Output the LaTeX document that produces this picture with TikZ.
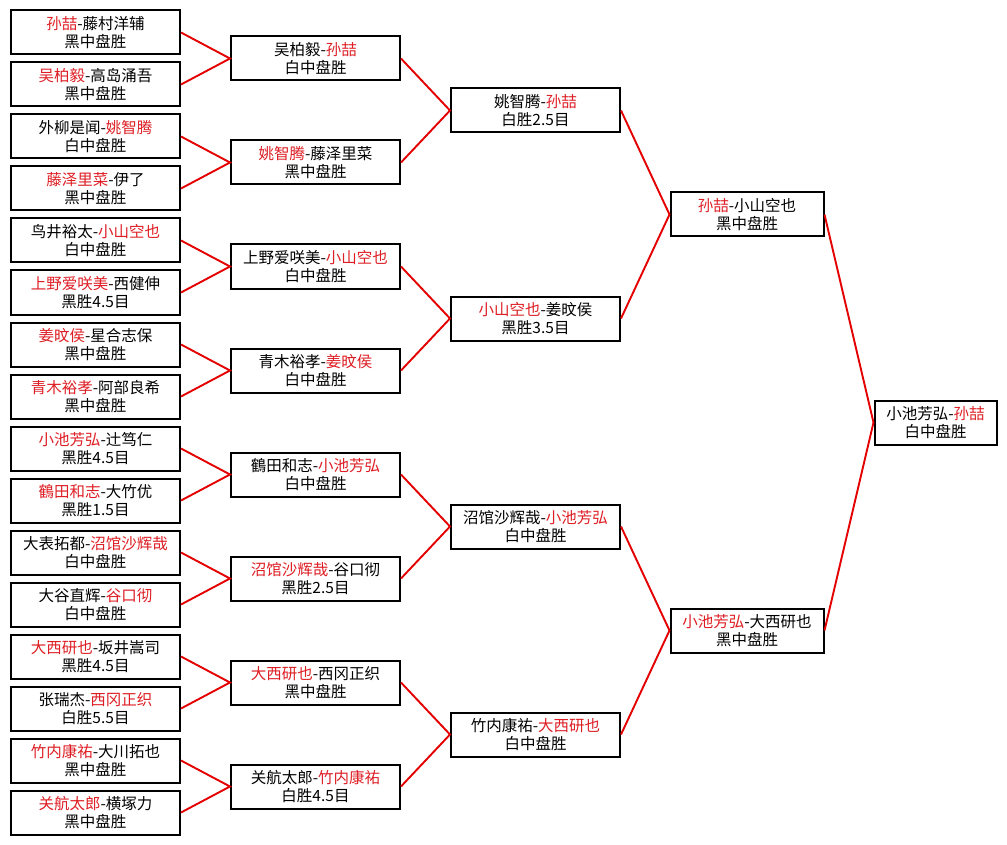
\documentclass[tikz,border=0pt]{standalone}
\usepackage{fontspec}
\setmainfont{Noto Sans CJK SC}
\definecolor{nred}{RGB}{222,30,36}
\definecolor{lred}{RGB}{228,0,0}
\newcommand{\rn}[1]{\textcolor{nred}{#1}}
\begin{document}
\begin{tikzpicture}[x=1pt,y=-1pt,
  match/.style={draw=black, line width=2pt, fill=white, align=center,
    font=\fontsize{15.5}{18.5}\selectfont, inner sep=0pt, minimum height=44pt},
  wide/.style={match, minimum width=169pt},
  mid/.style={match, minimum width=153pt},
  fin/.style={match, minimum width=122pt},
  link/.style={draw=lred, line width=1.9pt}]
\useasboundingbox (0,0) rectangle (1007,845);
\fill[white] (0,0) rectangle (1007,845);
% round 1
\node[wide] (a1)  at (95.5, 32.5) {\rn{孙喆}-藤村洋辅\\黑中盘胜};
\node[wide] (a2)  at (95.5, 84.5) {\rn{吴柏毅}-高岛涌吾\\黑中盘胜};
\node[wide] (a3)  at (95.5,136.5) {外柳是闻-\rn{姚智腾}\\白中盘胜};
\node[wide] (a4)  at (95.5,188.5) {\rn{藤泽里菜}-伊了\\黑中盘胜};
\node[wide] (a5)  at (95.5,240.5) {鸟井裕太-\rn{小山空也}\\白中盘胜};
\node[wide] (a6)  at (95.5,292.5) {\rn{上野爱咲美}-西健伸\\黑胜4.5目};
\node[wide] (a7)  at (95.5,344.5) {\rn{姜旼侯}-星合志保\\黑中盘胜};
\node[wide] (a8)  at (95.5,396.5) {\rn{青木裕孝}-阿部良希\\黑中盘胜};
\node[wide] (a9)  at (95.5,448.5) {\rn{小池芳弘}-辻笃仁\\黑胜4.5目};
\node[wide] (a10) at (95.5,500.5) {\rn{鶴田和志}-大竹优\\黑胜1.5目};
\node[wide] (a11) at (95.5,552.5) {大表拓都-\rn{沼馆沙辉哉}\\白中盘胜};
\node[wide] (a12) at (95.5,604.5) {大谷直辉-\rn{谷口彻}\\白中盘胜};
\node[wide] (a13) at (95.5,656.5) {\rn{大西研也}-坂井嵩司\\黑胜4.5目};
\node[wide] (a14) at (95.5,708.5) {张瑞杰-\rn{西冈正织}\\白胜5.5目};
\node[wide] (a15) at (95.5,760.5) {\rn{竹内康祐}-大川拓也\\黑中盘胜};
\node[wide] (a16) at (95.5,812.5) {\rn{关航太郎}-横塚力\\黑中盘胜};
% round 2
\node[wide] (b1) at (315.5, 58.5) {吴柏毅-\rn{孙喆}\\白中盘胜};
\node[wide] (b2) at (315.5,162.5) {\rn{姚智腾}-藤泽里菜\\黑中盘胜};
\node[wide] (b3) at (315.5,266.5) {上野爱咲美-\rn{小山空也}\\白中盘胜};
\node[wide] (b4) at (315.5,370.5) {青木裕孝-\rn{姜旼侯}\\白中盘胜};
\node[wide] (b5) at (315.5,474.5) {鶴田和志-\rn{小池芳弘}\\白中盘胜};
\node[wide] (b6) at (315.5,578.5) {\rn{沼馆沙辉哉}-谷口彻\\黑胜2.5目};
\node[wide] (b7) at (315.5,682.5) {\rn{大西研也}-西冈正织\\黑中盘胜};
\node[wide] (b8) at (315.5,786.5) {关航太郎-\rn{竹内康祐}\\白胜4.5目};
% round 3
\node[wide] (c1) at (535.5,110.5) {姚智腾-\rn{孙喆}\\白胜2.5目};
\node[wide] (c2) at (535.5,318.5) {\rn{小山空也}-姜旼侯\\黑胜3.5目};
\node[wide] (c3) at (535.5,526.5) {沼馆沙辉哉-\rn{小池芳弘}\\白中盘胜};
\node[wide] (c4) at (535.5,734.5) {竹内康祐-\rn{大西研也}\\白中盘胜};
% semifinal
\node[mid] (d1) at (747,214.5) {\rn{孙喆}-小山空也\\黑中盘胜};
\node[mid] (d2) at (747,630.5) {\rn{小池芳弘}-大西研也\\黑中盘胜};
% final
\node[fin] (e1) at (935.5,422.5) {小池芳弘-\rn{孙喆}\\白中盘胜};
% connectors
\foreach \j in {1,...,8}{
  \pgfmathtruncatemacro{\u}{2*\j-1}
  \pgfmathtruncatemacro{\v}{2*\j}
  \draw[link] (a\u.east) -- (b\j.west) -- (a\v.east);
}
\foreach \j in {1,...,4}{
  \pgfmathtruncatemacro{\u}{2*\j-1}
  \pgfmathtruncatemacro{\v}{2*\j}
  \draw[link] (b\u.east) -- (c\j.west) -- (b\v.east);
}
\foreach \j in {1,2}{
  \pgfmathtruncatemacro{\u}{2*\j-1}
  \pgfmathtruncatemacro{\v}{2*\j}
  \draw[link] (c\u.east) -- (d\j.west) -- (c\v.east);
}
\draw[link] (d1.east) -- (e1.west) -- (d2.east);
\end{tikzpicture}
\end{document}
